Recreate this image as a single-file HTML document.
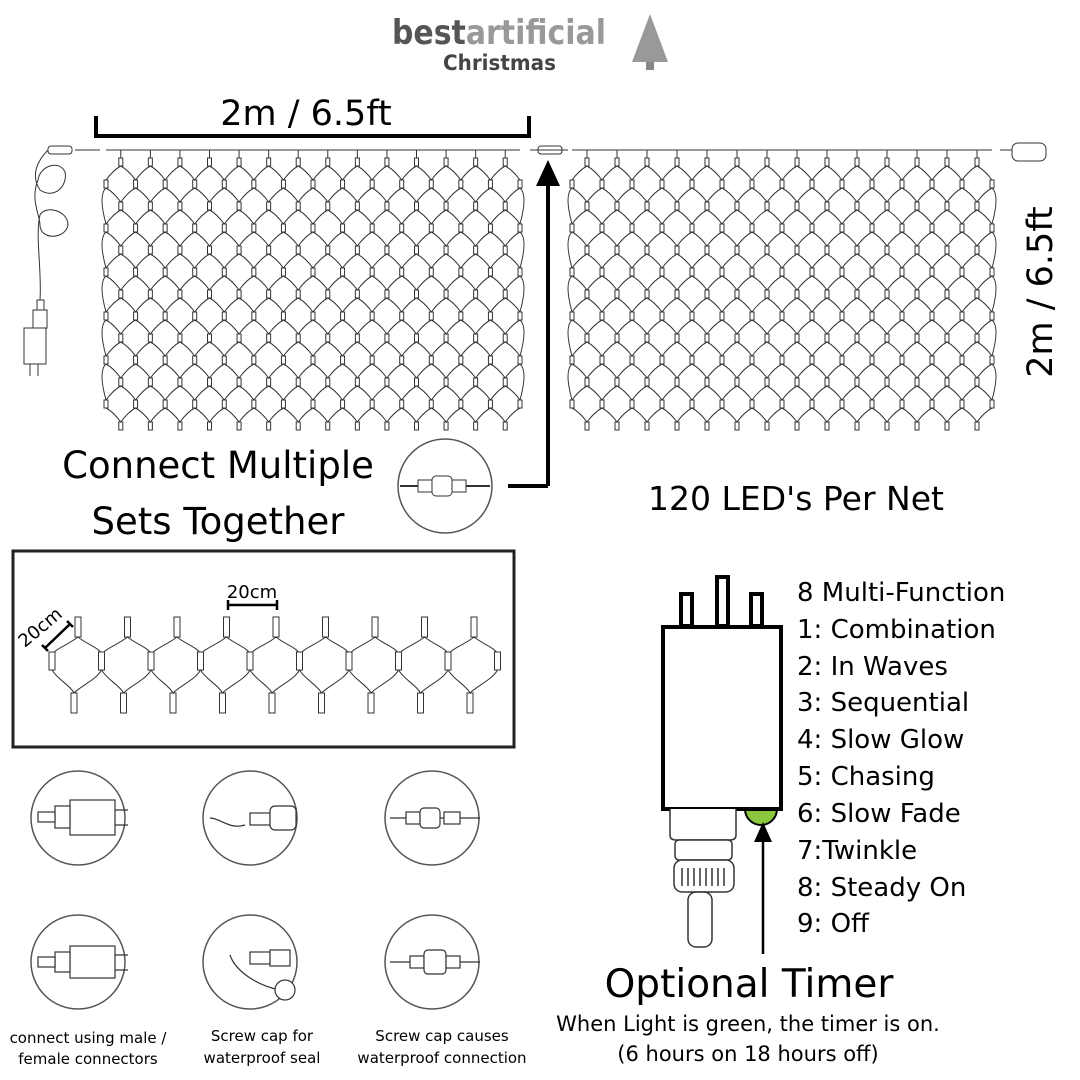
<!DOCTYPE html>
<html><head><meta charset="utf-8"><style>
html,body{margin:0;padding:0;background:#fff}
svg{display:block}
text{font-family:"DejaVu Sans","Liberation Sans",sans-serif}
</style></head><body>
<svg id="s" width="1080" height="1080" viewBox="0 0 1080 1080" xmlns="http://www.w3.org/2000/svg">
<rect width="1080" height="1080" fill="#fff"/>
<!-- logo -->
<text x="392" y="44" font-size="34" font-weight="bold" fill="#555" textLength="214" lengthAdjust="spacingAndGlyphs">best<tspan fill="#999">artificial</tspan></text>
<text x="443" y="70" font-size="21" font-weight="bold" fill="#444" textLength="113" lengthAdjust="spacingAndGlyphs">Christmas</text>
<polygon points="650,14 632,62 668,62" fill="#999"/>
<rect x="646" y="62" width="8" height="8" fill="#888"/>
<!-- top dimension -->
<text x="306" y="125" font-size="35" text-anchor="middle" fill="#000">2m / 6.5ft</text>
<path d="M96 116V138M96 136H529M529 116V138" stroke="#000" stroke-width="4" fill="none"/>
<!-- right dimension -->
<text transform="translate(1052,292) rotate(-90)" font-size="35" text-anchor="middle" fill="#000">2m / 6.5ft</text>
<g id="nets" stroke="#333" stroke-width="1" fill="none"></g>
<!-- lead wire left -->
<g stroke="#333" stroke-width="1" fill="none">
<path d="M100 150H75M48 150C38 160 30 175 40 190C55 200 68 185 65 172C60 160 40 165 38 180C30 200 40 215 40 225C40 240 65 240 68 225C68 210 45 205 40 215C35 235 42 270 40 300"/>
<rect x="48" y="146" width="24" height="8" rx="3"/>
<rect x="37" y="300" width="7" height="10"/>
<rect x="33" y="310" width="14" height="18"/>
<rect x="24" y="328" width="22" height="36"/>
<path d="M30 364V376M38 364V376"/>
<path d="M530 150H568"/>
<rect x="538" y="146" width="24" height="8" rx="3"/>
<path d="M1000 150H1012"/>
<rect x="1012" y="143" width="34" height="18" rx="6"/>
</g>
<!-- arrow up -->
<path d="M548 486H508M548 486V182" stroke="#000" stroke-width="4" fill="none"/>
<polygon points="548,160 536,186 560,186" fill="#000"/>
<!-- connect circle -->
<circle cx="445" cy="486" r="47" fill="#fff" stroke="#555" stroke-width="1.5"/>
<path d="M400 486H490" stroke="#333" stroke-width="2"/>
<rect x="418" y="480" width="14" height="12" fill="#fff" stroke="#333"/>
<rect x="432" y="476" width="20" height="20" rx="4" fill="#fff" stroke="#333"/>
<rect x="452" y="480" width="14" height="12" fill="#fff" stroke="#333"/>
<text x="218" y="478" font-size="37" text-anchor="middle" fill="#000">Connect Multiple</text>
<text x="218" y="534" font-size="37" text-anchor="middle" fill="#000">Sets Together</text>
<text x="796" y="510" font-size="33" text-anchor="middle" fill="#000">120 LED's Per Net</text>
<!-- sample box -->
<rect x="13" y="551" width="501" height="196" fill="none" stroke="#222" stroke-width="3"/>
<g id="sample" stroke="#333" stroke-width="1" fill="none"></g>
<text x="252" y="598" font-size="18" text-anchor="middle">20cm</text>
<path d="M228 600V610M228 605H277M277 600V610" stroke="#000" stroke-width="2.5" fill="none"/>
<text transform="translate(44,632) rotate(-40)" font-size="18" text-anchor="middle">20cm</text>
<path d="M45 648L70 624M42 645L48 651M67 621L73 627" stroke="#000" stroke-width="2.5" fill="none"/>
<!-- bottom circles -->
<g fill="#fff" stroke="#555" stroke-width="1.5">
<circle cx="78" cy="818" r="47"/><circle cx="250" cy="818" r="47"/><circle cx="432" cy="818" r="47"/>
<circle cx="78" cy="962" r="47"/><circle cx="250" cy="962" r="47"/><circle cx="432" cy="962" r="47"/>
</g>
<g stroke="#333" stroke-width="1.2" fill="#fff">
<rect x="70" y="800" width="45" height="35"/><path d="M115 810H128M115 825H128" fill="none"/>
<rect x="55" y="806" width="15" height="22"/><rect x="38" y="812" width="17" height="10"/>
<rect x="70" y="946" width="45" height="32"/><path d="M115 955H128M115 970H128" fill="none"/>
<rect x="55" y="952" width="15" height="20"/><rect x="38" y="957" width="17" height="10"/>
<path d="M210 818C220 818 230 830 245 825" fill="none"/>
<rect x="250" y="813" width="20" height="12"/><rect x="270" y="806" width="26" height="24" rx="5"/>
<path d="M230 955C235 970 255 985 280 990" fill="none"/>
<rect x="250" y="952" width="20" height="12"/><rect x="270" y="950" width="20" height="16"/>
<circle cx="285" cy="990" r="10"/>
<path d="M390 818H480" fill="none"/>
<rect x="406" y="812" width="14" height="12"/><rect x="420" y="808" width="20" height="20" rx="4"/><rect x="444" y="812" width="16" height="12"/>
<path d="M390 962H480" fill="none"/>
<rect x="410" y="956" width="14" height="12"/><rect x="424" y="950" width="22" height="24" rx="4"/><rect x="446" y="956" width="14" height="12"/>
</g>
<g font-size="15" text-anchor="middle" fill="#000">
<text x="88" y="1043">connect using male /</text><text x="88" y="1064">female connectors</text>
<text x="262" y="1041">Screw cap for</text><text x="262" y="1063">waterproof seal</text>
<text x="442" y="1041">Screw cap causes</text><text x="442" y="1063">waterproof connection</text>
</g>
<!-- controller -->
<g stroke="#000" stroke-width="4" fill="#fff">
<rect x="681" y="594" width="11" height="32"/><rect x="717" y="577" width="11" height="49"/><rect x="751" y="594" width="11" height="32"/>
</g>
<path d="M745 809A16 16 0 0 0 777 809Z" fill="#8bc63f" stroke="#000" stroke-width="2"/>
<rect x="663" y="627" width="118" height="182" fill="#fff" stroke="#000" stroke-width="4"/>
<g stroke="#333" stroke-width="1.5" fill="#fff">
<path d="M670 809V835Q670 840 676 840H730Q736 840 736 835V809"/>
<rect x="675" y="840" width="57" height="20" rx="4"/>
<rect x="674" y="860" width="60" height="32" rx="8"/>
<path d="M682 868V886M688 868V886M694 868V886M700 868V886M706 868V886M712 868V886M718 868V886M724 868V886"/>
<rect x="688" y="892" width="24" height="55" rx="8"/>
</g>
<path d="M763 954V838" stroke="#000" stroke-width="2.5"/>
<polygon points="763,822 754,842 772,842" fill="#000"/>
<g font-size="26" fill="#000">
<text x="797" y="601">8 Multi-Function</text>
<text x="797" y="638">1: Combination</text>
<text x="797" y="675">2: In Waves</text>
<text x="797" y="711">3: Sequential</text>
<text x="797" y="748">4: Slow Glow</text>
<text x="797" y="785">5: Chasing</text>
<text x="797" y="822">6: Slow Fade</text>
<text x="797" y="859">7:Twinkle</text>
<text x="797" y="896">8: Steady On</text>
<text x="797" y="932">9: Off</text>
</g>
<text x="749" y="997" font-size="39" text-anchor="middle">Optional Timer</text>
<text x="748" y="1031" font-size="21" text-anchor="middle">When Light is green, the timer is on.</text>
<text x="748" y="1061" font-size="21" text-anchor="middle">(6 hours on 18 hours off)</text>
</svg>
<script>
function net(g,x0,x1,y0,rows){
  var d="M"+x0+" "+y0+"H"+x1;
  var cols=14, dx=(x1-x0)/cols, dy=22;
  var s="";
  for(var r=0;r<rows;r++){
    var y=y0+12+r*dy, off=(r%2==0)?dx/2:0;
    for(var c=0;c<=cols;c++){
      var x=x0+off+c*dx; if(x>x1+1)continue;
      s+='<rect x="'+(x-2)+'" y="'+(y-4)+'" width="4" height="8" fill="#fff"/>';
      if(r==0){d+="M"+x+" "+y0+"V"+(y-4);}
      if(r<rows-1){
        var yn=y+dy;
        if(x-dx/2>=x0-1) d+="M"+x+" "+(y+4)+"Q"+(x-dx/4)+" "+(y+8)+" "+(x-dx/2)+" "+(yn-4);
        if(x+dx/2<=x1+1) d+="M"+x+" "+(y+4)+"Q"+(x+dx/4)+" "+(y+8)+" "+(x+dx/2)+" "+(yn-4);
        if(r<rows-2){
        if(x-dx/2<x0-1) d+="M"+x+" "+(y+4)+"Q"+(x-8)+" "+(y+dy/2)+" "+x+" "+(yn+dy-4);
        if(x+dx/2>x1+1) d+="M"+x+" "+(y+4)+"Q"+(x+8)+" "+(y+dy/2)+" "+x+" "+(yn+dy-4);
        }
      }
    }
  }
  g.innerHTML+='<path d="'+d+'"/>'+s;
}
var g=document.getElementById("nets");
net(g,106,520,150,13);
net(g,572,992,150,13);
var sp=document.getElementById("sample"), d="", s="";
for(var i=0;i<9;i++){
  var xt=78+i*49.5, xm=52+i*49.5, xb=74+i*49.5;
  s+='<rect x="'+(xt-3)+'" y="617" width="6" height="20" fill="#fff"/>';
  s+='<rect x="'+(xb-3)+'" y="693" width="6" height="20" fill="#fff"/>';
  d+="M"+xt+" 637C"+(xt-10)+" 645 "+(xt-22)+" 648 "+(xt-26)+" 655M"+xt+" 637C"+(xt+10)+" 645 "+(xt+22)+" 648 "+(xt+24)+" 655";
  d+="M"+(xm)+" 670C"+(xm+6)+" 680 "+(xm+18)+" 685 "+(xm+22)+" 693M"+(xm+49.5)+" 670C"+(xm+44)+" 680 "+(xm+30)+" 685 "+(xm+22)+" 693";
}
for(var i=0;i<10;i++){var xm=52+i*49.5; s+='<rect x="'+(xm-3)+'" y="652" width="6" height="18" fill="#fff"/>';}
sp.innerHTML='<path d="'+d+'"/>'+s;
</script>
</body></html>
